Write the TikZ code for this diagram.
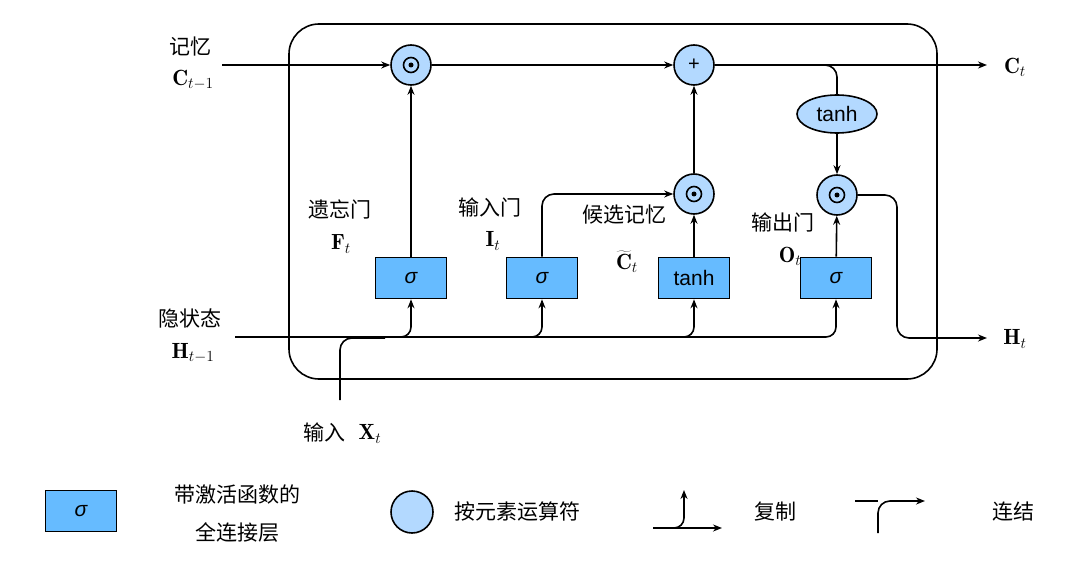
\documentclass[tikz,border=0pt]{standalone}
\usepackage{fix-cm}
\usepackage{fontspec}
\newfontfamily\cjk{Noto Sans CJK SC}
\newfontfamily\arial{Liberation Sans}
\usetikzlibrary{arrows.meta,shapes.geometric,calc}
\definecolor{boxblue}{RGB}{102,187,255}
\definecolor{circblue}{RGB}{179,217,255}
\tikzset{
  ln/.style={line width=1.6pt},
  arr/.style={ln,-{Stealth[length=9pt,width=7pt]}},
  gate/.style={draw,ln,fill=boxblue,minimum width=71pt,minimum height=41pt,inner sep=0pt,font=\arial\fontsize{21}{24}\selectfont},
  op/.style={draw,ln,circle,fill=circblue,minimum size=40pt,inner sep=0pt},
  oval/.style={draw,ln,ellipse,fill=circblue,minimum width=80pt,minimum height=38pt,inner sep=0pt,font=\arial\fontsize{21}{24}\selectfont},
  zh/.style={font=\cjk\fontsize{21}{24}\selectfont,inner sep=0pt},
  mlab/.style={font=\fontsize{22}{26}\selectfont,inner sep=0pt},
}
\newcommand{\odotmark}[1]{\draw[ln] (#1) circle (7.5pt); \fill (#1) circle (2.5pt);}
\newcommand{\sig}{{\itshape σ}}
\begin{document}
\begin{tikzpicture}[x=1pt,y=-1pt]
\useasboundingbox (0,0) rectangle (1084,572);
% outer cell
\draw[ln,rounded corners=30] (289,24) rectangle (937,379);
% operators
\node[op] (m1) at (411,65) {};
\node[op] (plus) at (694,65) {\arial\fontsize{20}{20}\selectfont +};
\node[op] (m2) at (694,194) {};
\node[op] (m3) at (837,195) {};
\odotmark{m1}\odotmark{m2}\odotmark{m3}
\node[oval] (th) at (837,114) {tanh};
% gates
\node[gate] (g1) at (411,278) {\sig};
\node[gate] (g2) at (542,278) {\sig};
\node[gate] (g3) at (694,278) {tanh};
\node[gate] (g4) at (836,278) {\sig};
% coordinates
\coordinate (cin) at (222,65);
\coordinate (cout) at (987,65);
\coordinate (cb) at (760,65);
\coordinate (hin) at (235,337);
\coordinate (hout) at (987,338);
\coordinate (oc) at (897,338);
\coordinate (xin) at (340,400);
\coordinate (xm) at (385,338);
\coordinate (b1) at (380,337);
\coordinate (b2) at (510,337);
\coordinate (b3) at (660,337);
% memory line
\draw[arr] (cin) -- (m1);
\draw[arr] (m1) -- (plus);
\draw[arr] (plus) -- (cout);
\draw[ln,rounded corners=12] (cb) -| (th.north);
\draw[arr] (th) -- (m3);
% gates to operators
\draw[arr] (g1) -- (m1);
\draw[arr,rounded corners=12] (g2.north) |- (m2);
\draw[arr] (g3) -- (m2);
\draw[arr] (m2) -- (plus);
\draw[arr] (g4) -- (m3);
% hidden state
\draw[arr,rounded corners=10] (hin) -| (g4.south);
\draw[arr,rounded corners=10] (b1) -| (g1.south);
\draw[arr,rounded corners=10] (b2) -| (g2.south);
\draw[arr,rounded corners=10] (b3) -| (g3.south);
\draw[ln,rounded corners=12] (xin) |- (xm);
\draw[arr,rounded corners=12] (m3) -| (oc) -- (hout);
% labels
\node[zh] (l1) at (190,47) {记忆};
\node[mlab] (l2) at (193,80) {$\mathbf{C}_{t-1}$};
\node[mlab] (l3) at (1015,67) {$\mathbf{C}_t$};
\node[zh] (l4) at (340,209) {遗忘门};
\node[mlab] (l5) at (341,244) {$\mathbf{F}_t$};
\node[zh] (l6) at (490,207) {输入门};
\node[mlab] (l7) at (493,241) {$\mathbf{I}_t$};
\node[zh] (l8) at (624,215) {候选记忆};
\node[mlab] (l9) at (627,262) {$\widetilde{\mathbf{C}}_t$};
\node[zh] (l10) at (783,222) {输出门};
\node[mlab] (l11) at (790,256) {$\mathbf{O}_t$};
\node[zh] (l12) at (190,318) {隐状态};
\node[mlab] (l13) at (193,353) {$\mathbf{H}_{t-1}$};
\node[mlab] (l14) at (1015,339) {$\mathbf{H}_t$};
\node[zh] (l15) at (324,432) {输入};
\node[mlab] (l16) at (370,434) {$\mathbf{X}_t$};
% legend
\node[gate] (lg1) at (81,511) {\sig};
\node[zh] (lt1) at (237,495) {带激活函数的};
\node[zh] (lt2) at (237,532) {全连接层};
\node[op,minimum size=42pt] (lg2) at (412,512) {};
\node[zh] (lt3) at (517,512) {按元素运算符};
\coordinate (ca) at (653,528);
\coordinate (cz) at (722,528);
\coordinate (cs) at (670,528);
\coordinate (cu) at (684,490);
\draw[arr] (ca) -- (cz);
\draw[arr,rounded corners=10] (cs) -| (cu);
\node[zh] (lt4) at (775,512) {复制};
\coordinate (ka) at (855,501);
\coordinate (kz) at (925,501);
\coordinate (kb) at (878,533);
\coordinate (km) at (878,501);
\draw[ln] (ka) -- (km);
\draw[arr,rounded corners=12] (kb) |- (kz);
\node[zh] (lt5) at (1013,512) {连结};
\end{tikzpicture}
\end{document}
